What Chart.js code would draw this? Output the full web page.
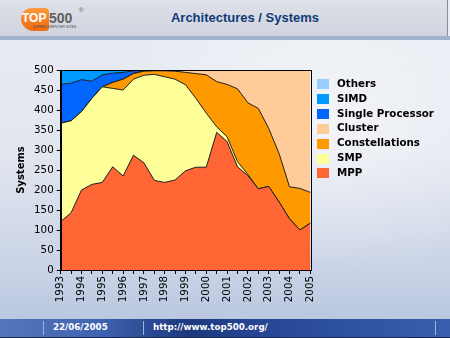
<!DOCTYPE html>
<html>
<head>
<meta charset="utf-8">
<title>Architectures / Systems</title>
<script src="https://cdn.jsdelivr.net/npm/chart.js@4.4.0/dist/chart.umd.min.js"></script>
<style>
  html, body { margin: 0; padding: 0; }
  body {
    width: 450px; height: 338px; overflow: hidden; position: relative;
    font-family: "Liberation Sans", Arial, sans-serif;
    background:
      radial-gradient(ellipse 340px 220px at 330px 120px, rgba(255,255,255,0.55), rgba(255,255,255,0) 70%),
      linear-gradient(to bottom, #e9ecf3 0%, #e2e6ef 45%, #c9d3e6 80%, #b4c3de 100%);
  }
  #header {
    position: absolute; left: 0; top: 0; width: 447px; height: 36px;
    background: linear-gradient(to bottom, #dfe0e8, #d1d4df);
    border-right: 1px solid #8a8d98;
  }
  #header-bar { position: absolute; left: 0; top: 36px; width: 450px; height: 4px; background: #a3b2ce; }
  #title {
    position: absolute; left: 0; top: 10px; width: 490px; text-align: center;
    font-weight: bold; font-size: 13px; color: #0f3a78;
  }
  #logo { position: absolute; left: 20px; top: 6px; width: 66px; height: 28px; }
  #logo .blob {
    position: absolute; left: 1px; top: 2px; width: 28px; height: 23px;
    background: linear-gradient(to bottom, #ff9a3c, #ec6a10);
    border-radius: 11px 4px 4px 13px;
  }
  #logo .top { position: absolute; left: 2px; top: 5px; font: bold 12px "Liberation Sans", Arial, sans-serif; color: #fff; }
  #logo .five { position: absolute; left: 29px; top: 4px; font: bold 14px "Liberation Sans", Arial, sans-serif; color: #606060; }
  #logo .reg { position: absolute; left: 59px; top: 1px; font: 6px "Liberation Sans", Arial, sans-serif; color: #555; }
  #logo .sub { position: absolute; left: 13px; top: 19px; font: 3.5px "Liberation Sans", Arial, sans-serif; color: #444; white-space: nowrap; }
  #chart { position: absolute; left: 0; top: 40px; }
  #legend { position: absolute; left: 317px; top: 77px; }
  #legend .item { position: relative; height: 14.83px; line-height: 14.83px; white-space: nowrap;
    font: bold 10.3px "DejaVu Sans", Verdana, sans-serif; color: #000; padding-left: 20px; }
  #legend .box { position: absolute; left: 0; top: 2.4px; width: 12px; height: 10px; }
  #footer {
    position: absolute; left: 0; top: 319px; width: 450px; height: 19px;
    background: linear-gradient(to right, #5676b9 0%, #3f63b0 22%, #1d387e 42%, #28499a 62%, #3a5eae 100%);
    border-bottom: 1px solid #1a2850;
    box-sizing: border-box;
  }
  #footer .sep { position: absolute; top: 2px; width: 1px; height: 14px; background: #9fb2da; }
  #footer span.txt { position: absolute; top: 3px; font: bold 8.7px "DejaVu Sans", Verdana, sans-serif; color: #fff; }
</style>
</head>
<body>
<div id="header"></div>
<div id="header-bar"></div>
<div id="logo">
  <div class="blob"></div>
  <span class="top">TOP</span><span class="five">500</span><span class="reg">®</span>
  <span class="sub">SUPERCOMPUTER SITES</span>
</div>
<div id="title">Architectures / Systems</div>

<canvas id="chart" width="320" height="276"></canvas>
<div id="legend"></div>

<div id="footer">
  <div class="sep" style="left:43px"></div>
  <div class="sep" style="left:143px"></div>
  <div class="sep" style="left:435px"></div>
  <span class="txt" style="left:53px">22/06/2005</span>
  <span class="txt" style="left:153px">http://www.top500.org/</span>
</div>

<script>
// TOP500 lists, June and November of each year
const periods = [
  '06/1993', '11/1993', '06/1994', '11/1994', '06/1995', '11/1995', '06/1996', '11/1996',
  '06/1997', '11/1997', '06/1998', '11/1998', '06/1999', '11/1999', '06/2000', '11/2000',
  '06/2001', '11/2001', '06/2002', '11/2002', '06/2003', '11/2003', '06/2004', '11/2004',
  '06/2005'
];

// number of systems per architecture
const mpp = [121, 143, 200, 214, 219, 258, 235, 287, 268, 224, 219, 225, 248, 257, 257, 344, 321, 258, 236, 203, 209, 170, 128, 100, 117];
const smp = [246, 230, 196, 215, 239, 196, 215, 190, 219, 265, 264, 252, 215, 172, 135, 14, 12, 13, 3, 0, 0, 0, 0, 0, 0];
const constellations = [0, 0, 0, 0, 0, 15, 27, 14, 10, 9, 15, 20, 31, 62, 96, 113, 131, 182, 179, 201, 145, 121, 80, 104, 77];
const cluster = [0, 0, 0, 0, 0, 0, 0, 1, 1, 2, 2, 3, 6, 9, 12, 29, 36, 47, 82, 96, 146, 209, 292, 296, 306];
const singleProcessor = [97, 94, 80, 43, 30, 23, 17, 6, 2, 0, 0, 0, 0, 0, 0, 0, 0, 0, 0, 0, 0, 0, 0, 0, 0];
const simd = [36, 33, 24, 28, 12, 8, 6, 2, 0, 0, 0, 0, 0, 0, 0, 0, 0, 0, 0, 0, 0, 0, 0, 0, 0];
const others = [0, 0, 0, 0, 0, 0, 0, 0, 0, 0, 0, 0, 0, 0, 0, 0, 0, 0, 0, 0, 0, 0, 0, 0, 0];

const yTicks = [0, 50, 100, 150, 200, 250, 300, 350, 400, 450, 500];

// stacking order, bottom first
const series = [
  { name: 'MPP', data: mpp, color: '#ff6633' },
  { name: 'SMP', data: smp, color: '#ffff99' },
  { name: 'Constellations', data: constellations, color: '#ff9900' },
  { name: 'Cluster', data: cluster, color: '#ffcc99' },
  { name: 'Single Processor', data: singleProcessor, color: '#0066ff' },
  { name: 'SIMD', data: simd, color: '#0099ff' },
  { name: 'Others', data: others, color: '#99ccff' }
];

// legend, top of the stack first
const legend = document.getElementById('legend');
series.slice().reverse().forEach(function (s) {
  const item = document.createElement('div');
  item.className = 'item';
  const box = document.createElement('span');
  box.className = 'box';
  box.style.background = s.color;
  item.appendChild(box);
  item.appendChild(document.createTextNode(s.name));
  legend.appendChild(item);
});

// black frame round the plot
const frame = {
  id: 'frame',
  afterDatasetsDraw(chart) {
    const a = chart.chartArea;
    const ctx = chart.ctx;
    ctx.save();
    ctx.strokeStyle = '#000';
    ctx.lineWidth = 1;
    ctx.strokeRect(Math.round(a.left) + 0.5, Math.round(a.top) + 0.5,
      Math.round(a.right - a.left), Math.round(a.bottom - a.top));
    ctx.restore();
  }
};

const tickFont = { family: 'DejaVu Sans', size: 10.3 };

new Chart(document.getElementById('chart').getContext('2d'), {
  type: 'line',
  data: {
    labels: periods,
    datasets: series.map(function (s, i) {
      return {
        label: s.name,
        data: s.data,
        backgroundColor: s.color,
        borderColor: '#1e1e1e',
        borderWidth: 1,
        fill: i === 0 ? 'origin' : '-1',
        pointRadius: 0,
        tension: 0
      };
    })
  },
  options: {
    responsive: false,
    animation: false,
    layout: { padding: { left: 15, top: 30, right: 9.7, bottom: 0 } },
    plugins: {
      legend: { display: false },
      tooltip: { enabled: false }
    },
    scales: {
      x: {
        ticks: {
          autoSkip: false, minRotation: 90, maxRotation: 90, padding: 2,
          color: '#000', font: tickFont,
          callback: function (v, i) { return i % 2 === 0 ? periods[i].slice(3) : ''; }
        },
        grid: { display: true, drawOnChartArea: false, color: '#000', tickLength: 4 },
        border: { color: '#000' },
        afterFit: function (scale) {
          scale.height = 46;
          scale.paddingLeft = 0;
          scale.paddingRight = 0;
        }
      },
      y: {
        stacked: true,
        min: 0,
        max: 500,
        afterBuildTicks: function (scale) { scale.ticks = yTicks.map(function (v) { return { value: v }; }); },
        ticks: { color: '#000', font: tickFont, padding: 3 },
        grid: { display: true, drawOnChartArea: false, color: '#000', tickLength: 4 },
        border: { color: '#000' },
        title: {
          display: true, text: 'Systems', color: '#000', padding: 0,
          font: { family: 'DejaVu Sans', size: 10, weight: 'bold' }
        },
        afterFit: function (scale) { scale.width = 45.7; }
      }
    }
  },
  plugins: [frame]
});
</script>
</body>
</html>
